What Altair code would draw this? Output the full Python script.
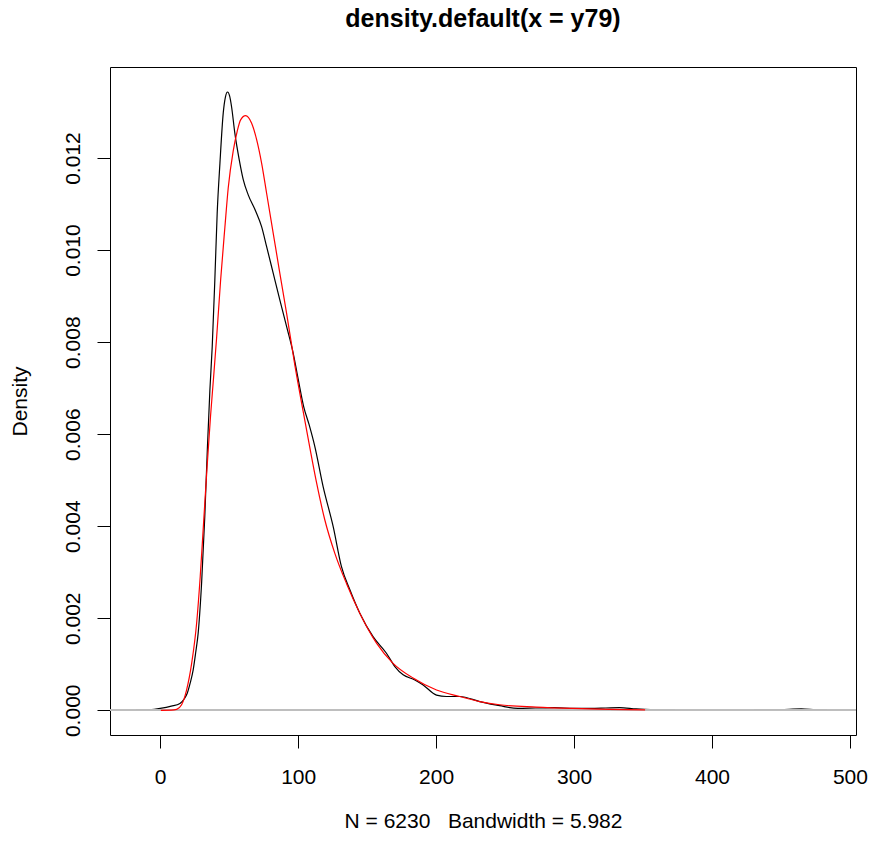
import altair as alt
import pandas as pd

# Kernel density estimate (black)
black_x = [-17.9, -8, 0, 8, 14.3, 17.5, 19.6, 21.8, 23.9, 25.7, 27.5, 30, 32.3, 34.2, 36, 37.7,
           39.6, 41.3, 43.3, 45.7, 47.3, 48.8, 50.3, 51.7, 54.1, 57.3, 60.2, 63.8, 69.3, 73.5,
           77.1, 81.9, 86.7, 91.6, 96.4, 100, 104, 108, 112.1, 118.1, 125.4, 131.4, 137.5,
           144.7, 154.3, 164, 170.1, 176.1, 184.6, 190.6, 200.3, 207.5, 217.2, 231.7, 246,
           259.3, 272, 285.7, 300, 312, 323, 333, 345, 360, 377.8, 400, 430, 450, 464.7, 475, 483.9]
black_y = [0, 0.00001, 0.00004, 0.00009, 0.00015, 0.00025, 0.00037, 0.0006, 0.00088, 0.00125,
           0.00167, 0.00276, 0.0042, 0.0057, 0.00695, 0.0079, 0.00935, 0.0108, 0.01189, 0.01298,
           0.01333, 0.013435, 0.01335, 0.01312, 0.01254, 0.01196, 0.01153, 0.0112, 0.01084,
           0.01051, 0.01008, 0.0095, 0.00892, 0.00834, 0.00776, 0.0072, 0.0066, 0.0062, 0.00573,
           0.00486, 0.00399, 0.00312, 0.00262, 0.00211, 0.0016, 0.00124, 0.00095, 0.00077,
           0.00066, 0.00055, 0.00033, 0.0003, 0.0003, 0.00019, 0.0001, 0.00004, 0.00005,
           0.00006, 0.00004, 0.00004, 0.00005, 0.00006, 0.00003, 0.00001, 0, 0, 0, 0.00001,
           0.00003, 0.00001, 0]

# Fitted density (red)
red_x = [0.5, 8, 11.9, 15.5, 19.1, 22.8, 26.4, 29, 31.5, 34, 36.5, 38.6, 40.9, 43.8, 46.9, 49.3,
         52.9, 55.8, 58.3, 61.9, 66.2, 69.9, 73.5, 77.1, 81.9, 86.7, 91.6, 97.6, 103.6, 108.5,
         113.3, 119.3, 126.6, 135.1, 144.7, 156.8, 168.8, 183.3, 200.3, 217.2, 231.7, 246,
         272.5, 298.9, 325.2, 351.5]
red_y = [0, 0.000003, 0.00002, 0.00012, 0.00044, 0.00102, 0.00189, 0.0029, 0.0041, 0.0053,
         0.0064, 0.0072, 0.0081, 0.00935, 0.0105, 0.01135, 0.01215, 0.01258, 0.01283, 0.01292,
         0.01276, 0.0124, 0.01189, 0.01124, 0.01037, 0.0095, 0.00863, 0.0075, 0.0065, 0.0057,
         0.00495, 0.00414, 0.00341, 0.00275, 0.00211, 0.00146, 0.00102, 0.0007, 0.00044,
         0.0003, 0.00019, 0.00012, 0.00007, 0.00004, 0.00002, 0.00001]

x_ticks = [0, 100, 200, 300, 400, 500]
y_ticks = [0, 0.002, 0.004, 0.006, 0.008, 0.010, 0.012]

black_df = pd.DataFrame({"x": black_x, "y": black_y})
red_df = pd.DataFrame({"x": red_x, "y": red_y})

FONT = "Liberation Sans"
W, H = 746, 668
NB = "\u00a0"
x_title = "N = 6230" + NB * 3 + "Bandwidth = 5.982"

x_scale = alt.Scale(domain=[-36.4, 504.4], nice=False, zero=False)
y_scale = alt.Scale(domain=[-0.000537, 0.013978], nice=False, zero=False)

x_enc = alt.X("x:Q", scale=x_scale, axis=alt.Axis(
    values=x_ticks, format="d", title=x_title,
    titleBaseline="top", titleY=75, labelPadding=18))
y_enc = alt.Y("y:Q", scale=y_scale, axis=alt.Axis(
    values=y_ticks, format=".3f", title="Density",
    labelAngle=270, labelAlign="center", labelBaseline="alphabetic", labelPadding=18,
    titleAngle=270, titleBaseline="alphabetic", titleX=-84, titleY=H / 2))

black = alt.Chart(black_df).mark_line(color="black", strokeWidth=1.2, interpolate="monotone").encode(
    x=x_enc, y=y_enc)

zero = alt.Chart(black_df).mark_rule(color="#bebebe", strokeWidth=1).encode(
    x=alt.value(0), x2=alt.value(W), y=alt.datum(0))

red = alt.Chart(red_df).mark_line(color="#ff0000", strokeWidth=1.2, interpolate="monotone").encode(
    x="x:Q", y="y:Q")

chart = alt.layer(black, zero, red).properties(
    width=W, height=H,
    title=alt.TitleParams("density.default(x = y79)", font=FONT, fontSize=25, fontWeight="bold",
                          anchor="middle", offset=35, color="black"),
    padding={"left": 110, "top": 67, "right": 16, "bottom": 109},
    autosize="none",
    background="white",
).configure_view(
    stroke="black", strokeWidth=1
).configure_axis(
    domain=False, grid=False, ticks=True, tickSize=13, tickColor="black", tickWidth=1,
    labelFont=FONT, labelFontSize=21, labelColor="black",
    titleFont=FONT, titleFontSize=21, titleFontWeight="normal", titleColor="black",
)

chart.save("out.html", embed_options={"renderer": "svg", "actions": False})
